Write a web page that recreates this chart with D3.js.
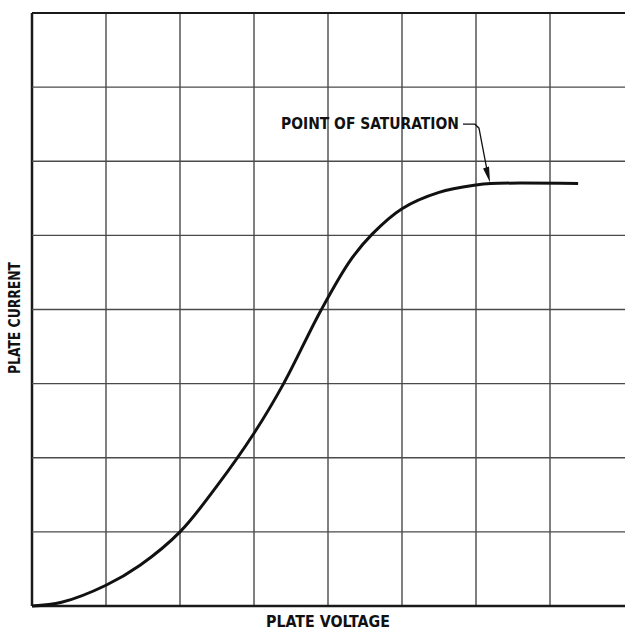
<!DOCTYPE html>
<html><head><meta charset="utf-8">
<script src="https://cdn.jsdelivr.net/npm/d3@7"></script>
<style>html,body{margin:0;padding:0;background:#fff;}svg{display:block;}</style>
</head><body>
<script>
// Data (grid units: 8 x 8 divisions, no numeric ticks in original)
const gridX = [0,1,2,3,4,5,6,7];           // vertical grid lines (right frame lies at the image edge)
const gridY = [0,1,2,3,4,5,6,7,8];         // horizontal grid lines
const voltage = [0, 0.4, 1.0, 1.46, 2.0, 2.5, 3.0, 3.4, 3.9, 4.3, 4.6, 5.0, 5.5, 6.0, 6.2, 7.38];
const current = [0, 0.05, 0.28, 0.55, 1.0, 1.62, 2.33, 3.0, 3.98, 4.66, 5.02, 5.36, 5.58, 5.68, 5.70, 5.70];
const saturationPoint = [6.19, 5.70];
const annotationAt = [5.77, 6.5];          // label end / leader start, grid units
const annotationText = "POINT OF SATURATION";
const xLabel = "PLATE VOLTAGE";
const yLabel = "PLATE CURRENT";

const W = 625, H = 633;
const svg = d3.select("body").append("svg").attr("width", W).attr("height", H);
const x = d3.scaleLinear().domain([0, 8]).range([32, 624]);
const y = d3.scaleLinear().domain([0, 8]).range([606, 13]);

// grid
svg.append("g").selectAll("line").data(gridX).join("line")
  .attr("x1", d => x(d)).attr("x2", d => x(d))
  .attr("y1", y(8)).attr("y2", y(0))
  .attr("stroke", d => d === 0 ? "#1a1a1a" : "#4a4a4a")
  .attr("stroke-width", d => d === 0 ? 2.5 : 1.4);
svg.append("g").selectAll("line").data(gridY).join("line")
  .attr("x1", x(0)).attr("x2", W)
  .attr("y1", d => y(d)).attr("y2", d => y(d))
  .attr("stroke", d => (d === 0 || d === 8) ? "#1a1a1a" : "#4a4a4a")
  .attr("stroke-width", d => d === 0 ? 2.5 : (d === 8 ? 2 : 1.4));

// curve
const pts = voltage.map((v, i) => [v, current[i]]);
const line = d3.line().x(d => x(d[0])).y(d => y(d[1])).curve(d3.curveCatmullRom.alpha(0.5));
svg.append("path").datum(pts).attr("d", line)
  .attr("fill", "none").attr("stroke", "#111").attr("stroke-width", 3).attr("stroke-linecap", "butt");

// annotation
const fontFam = "'Liberation Sans Narrow','DejaVu Sans Condensed','Liberation Sans',Arial,sans-serif";
const tx = x(annotationAt[0]), ty = y(annotationAt[1]);
svg.append("text").attr("x", tx).attr("y", ty + 5)
  .attr("text-anchor", "end")
  .attr("font-family", fontFam).attr("font-weight", "bold").attr("font-size", 15)
  .attr("textLength", 178).attr("lengthAdjust", "spacingAndGlyphs")
  .attr("fill", "#111").text(annotationText);
const tipX = x(saturationPoint[0]), tipY = y(saturationPoint[1]) - 1;
svg.append("path")
  .attr("d", d3.line()([[tx + 4, ty], [tx + 16, ty], [tx + 20, ty + 4], [tipX - 3, tipY - 12]]))
  .attr("fill", "none").attr("stroke", "#111").attr("stroke-width", 1.3);
svg.append("path")
  .attr("d", d3.line()([[tipX - 7, tipY - 14], [tipX - 1, tipY - 16], [tipX, tipY]]) + "Z")
  .attr("fill", "#111");

// axis labels
svg.append("text").attr("x", 328).attr("y", 627).attr("text-anchor", "middle")
  .attr("font-family", fontFam).attr("font-weight", "bold").attr("font-size", 15)
  .attr("textLength", 124).attr("lengthAdjust", "spacingAndGlyphs")
  .attr("fill", "#111").text(xLabel);
svg.append("text").attr("transform", "translate(20,318) rotate(-90)").attr("text-anchor", "middle")
  .attr("font-family", fontFam).attr("font-weight", "bold").attr("font-size", 15)
  .attr("textLength", 112).attr("lengthAdjust", "spacingAndGlyphs")
  .attr("fill", "#111").text(yLabel);
</script>
</body></html>
